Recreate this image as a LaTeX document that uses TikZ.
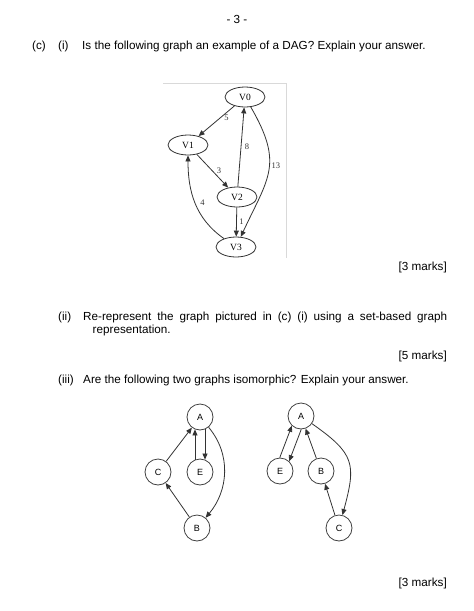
\documentclass[tikz,border=0pt]{standalone}
\usepackage{fontspec}
\setmainfont{Liberation Sans}
\newfontfamily\dotfont{Liberation Serif}
\usetikzlibrary{shapes.geometric,arrows.meta}

\begin{document}
\begin{tikzpicture}[
  x=1pt, y=1pt,
  every node/.style={font=\fontsize{11.7}{14}\selectfont},
  txt/.style={anchor=base west, inner sep=0pt},
  marks/.style={anchor=base east, inner sep=0pt},
  dagnode/.style={ellipse, draw=black!80, line width=0.8pt, minimum width=40pt, minimum height=20pt,
    inner sep=0pt, font=\dotfont\fontsize{9.5}{10}\selectfont},
  isonode/.style={circle, draw=black!75, line width=0.8pt, minimum size=26pt, inner sep=0pt,
    font=\fontsize{9}{10}\selectfont},
  lbl/.style={inner sep=1pt, font=\dotfont\fontsize{8.5}{9}\selectfont},
  arr/.style={-{Triangle[length=6pt,width=5pt]}, line width=0.8pt, black!80}
]
\useasboundingbox (0,0) rectangle (474,-611);

% ---------------- question text ----------------
\node[inner sep=0pt] (page) at (237,-19) {- 3 -};
\node[txt] (qc) at (32,-49) {(c)};
\node[txt] (qi) at (58,-49) {(i)};
\node[txt] (qitext) at (82,-49) {Is the following graph an example of a DAG? Explain your answer.};

% ---------------- graph (c)(i) ----------------
\draw[black!15, line width=0.6pt] (163,-83) -- (286,-83) -- (286,-258);

\node[dagnode] (v0) at (245,-97)  {V0};
\node[dagnode] (v1) at (188,-145) {V1};
\node[dagnode] (v2) at (237,-197) {V2};
\node[dagnode] (v3) at (236,-247) {V3};

\draw[arr] (v0) -- node[lbl, pos=0.4, right=3pt] (w5) {5} (v1);
\draw[arr] (v1) -- node[lbl, midway, right=3pt] (w3) {3} (v2);
\draw[arr] (v2) -- node[lbl, midway, right=2.5pt] (w8) {8} (v0);
\draw[arr] (v2) -- node[lbl, midway, right=1.5pt] (w1) {1} (v3);
\draw[arr] (v0) to[out=-60, in=65, looseness=1.3] node[lbl, pos=0.45, right=1pt] (w13) {13} (v3);
\draw[arr] (v3) to[out=145, in=-90] node[lbl, midway, right=4pt] (w4) {4} (v1);

\node[marks] (m1) at (447,-270) {[3 marks]};

% ---------------- part (ii) ----------------
\node[txt] (qii) at (58,-320) {(ii)};
\node[txt] (qiitext) at (83,-320) {\makebox[364pt][s]{Re-represent the graph pictured in (c) (i) using a set-based graph}};
\node[txt] (qiitext2) at (92.5,-333) {representation.};
\node[marks] (m2) at (447,-359) {[5 marks]};

% ---------------- part (iii) ----------------
\node[txt] (qiii) at (58,-383) {(iii)};
\node[txt] (qiiitext) at (83,-383) {Are the following two graphs isomorphic? Explain your answer.};

% left graph
\node[isonode] (la) at (200,-417) {A};
\node[isonode] (lc) at (158,-472) {C};
\node[isonode] (le) at (200,-472) {E};
\node[isonode] (lb) at (197,-528) {B};

\draw[arr] (lc) -- (la);
\draw[arr] (le.112) -- (la.248);
\draw[arr] (la.292) -- (le.68);
\draw[arr] (la) to[out=-50, in=50] (lb);
\draw[arr] (lb) -- (lc);

% right graph
\node[isonode] (ra) at (301,-416) {A};
\node[isonode] (re) at (280,-471) {E};
\node[isonode] (rb) at (321,-471) {B};
\node[isonode] (rc) at (339,-528) {C};

\draw[arr] (re.91) -- (ra.227);
\draw[arr] (ra.271) -- (re.47);
\draw[arr] (rb) -- (ra);
\draw[arr] (ra) to[out=-35, in=75, looseness=1.4] (rc);
\draw[arr] (rc) -- (rb);

\node[marks] (m3) at (447,-586) {[3 marks]};

\end{tikzpicture}
\end{document}
